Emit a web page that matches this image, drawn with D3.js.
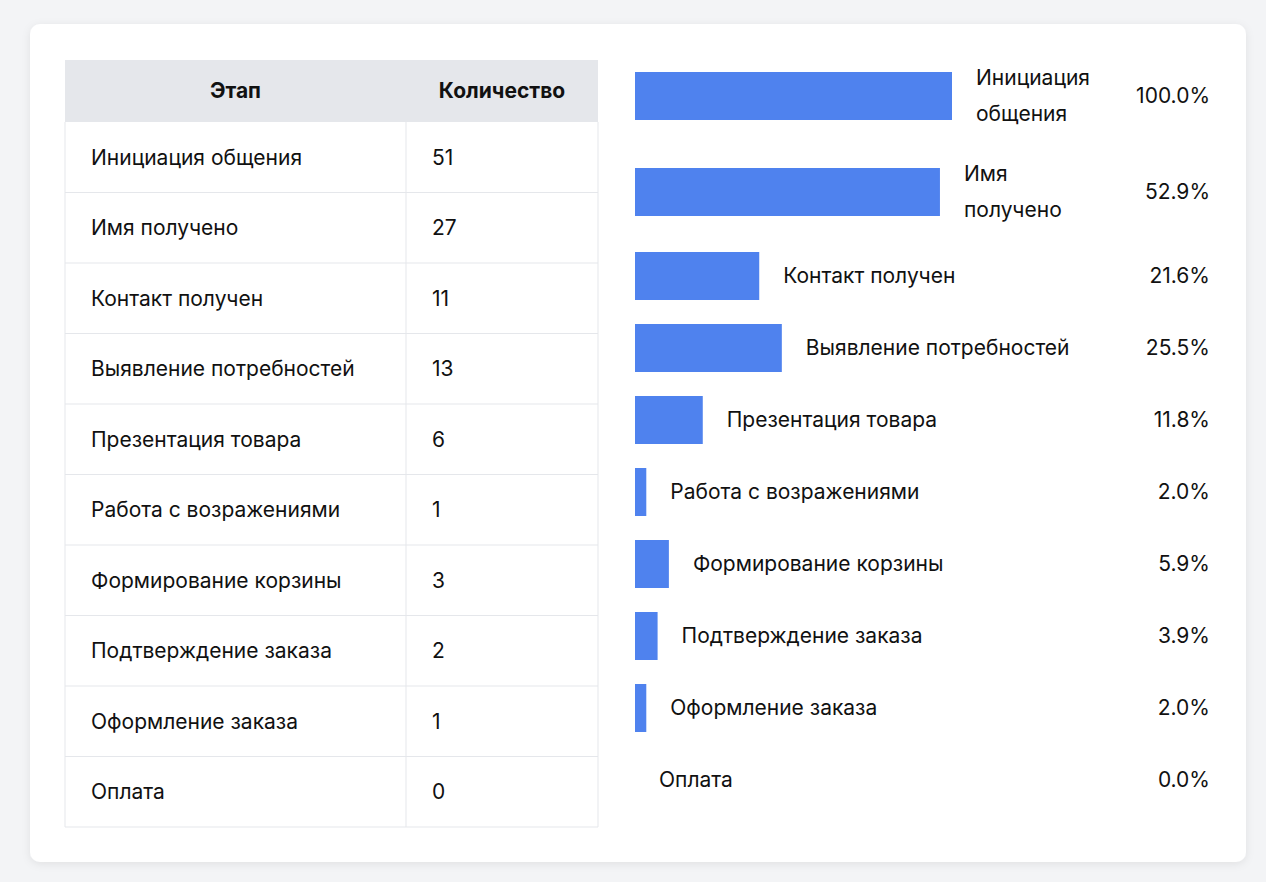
<!DOCTYPE html>
<html><head><meta charset="utf-8">
<script src="https://cdn.jsdelivr.net/npm/d3@7/dist/d3.min.js"></script>
<style>
html,body{margin:0;padding:0;background:#f3f4f6;}
svg{display:block;font-family:Inter,"Noto Sans",sans-serif;}
</style></head><body>
<svg id="c" width="1266" height="882"></svg>
<script>
const stages = ["Инициация общения","Имя получено","Контакт получен","Выявление потребностей","Презентация товара","Работа с возражениями","Формирование корзины","Подтверждение заказа","Оформление заказа","Оплата"];
const counts = [51,27,11,13,6,1,3,2,1,0];
const percents = ["100.0%","52.9%","21.6%","25.5%","11.8%","2.0%","5.9%","3.9%","2.0%","0.0%"];
const headers = ["Этап","Количество"];

const svg = d3.select("#c");
const defs = svg.append("defs");
const f = defs.append("filter").attr("id","sh").attr("x","-5%").attr("y","-5%").attr("width","110%").attr("height","115%");
f.append("feDropShadow").attr("dx",0).attr("dy",2).attr("stdDeviation",4).attr("flood-color","#000").attr("flood-opacity",0.08);
svg.append("rect").attr("x",30).attr("y",24).attr("width",1216).attr("height",838).attr("rx",10).attr("fill","#fff").attr("filter","url(#sh)");

// Table
const tx0=65, tx1=406, tx2=598, hy=60, hh=62, rh=70.5;
const tg = svg.append("g");
tg.append("rect").attr("x",tx0).attr("y",hy).attr("width",tx2-tx0).attr("height",hh).attr("fill","#e5e7eb");
tg.selectAll("text.h").data(headers).join("text")
  .attr("x",(d,i)=>i===0?(tx0+tx1)/2:(tx1+tx2)/2).attr("y",hy+hh/2).attr("dy","0.35em")
  .attr("text-anchor","middle").attr("font-size",21).attr("font-weight",700).attr("fill","#111").text(d=>d);
const ry = d3.scaleBand().domain(d3.range(stages.length)).range([hy+hh, hy+hh+rh*stages.length]);
stages.forEach((s,i)=>{
  const y=ry(i);
  tg.append("line").attr("x1",tx0).attr("x2",tx2).attr("y1",y+rh).attr("y2",y+rh).attr("stroke","#e5e7eb");
  tg.append("text").attr("x",91).attr("y",y+rh/2).attr("dy","0.35em").attr("font-size",21).attr("fill","#111").text(s);
  tg.append("text").attr("x",432).attr("y",y+rh/2).attr("dy","0.35em").attr("font-size",21).attr("fill","#111").text(counts[i]);
});
tg.append("line").attr("x1",tx1).attr("x2",tx1).attr("y1",hy+hh).attr("y2",hy+hh+rh*stages.length).attr("stroke","#e5e7eb");
tg.append("line").attr("x1",tx0).attr("x2",tx0).attr("y1",hy+hh).attr("y2",hy+hh+rh*stages.length).attr("stroke","#e5e7eb");
tg.append("line").attr("x1",tx2).attr("x2",tx2).attr("y1",hy+hh).attr("y2",hy+hh+rh*stages.length).attr("stroke","#e5e7eb");

// Bars
const bx=635, maxW=317;
const x = d3.scaleLinear().domain([0,d3.max(counts)]).range([0,576]);
const bg = svg.append("g");
let y=60;
stages.forEach((s,i)=>{
  const w=Math.min(x(counts[i]),maxW);
  const wrap = w>250;
  const h = wrap?72:48;
  const cy = y+h/2;
  if(w>0) bg.append("rect").attr("x",bx).attr("y",cy-24).attr("width",w).attr("height",48).attr("fill","#4f82ee");
  const lx = bx+w+24;
  const t = bg.append("text").attr("x",lx).attr("font-size",21).attr("fill","#111");
  if(wrap){
    const parts=s.split(" ");
    t.append("tspan").attr("x",lx).attr("y",cy-18).attr("dy","0.35em").text(parts[0]);
    t.append("tspan").attr("x",lx).attr("y",cy+18).attr("dy","0.35em").text(parts.slice(1).join(" "));
  } else t.attr("y",cy).attr("dy","0.35em").text(s);
  bg.append("text").attr("x",1210).attr("y",cy).attr("dy","0.35em").attr("text-anchor","end").attr("font-size",21).attr("fill","#111").text(percents[i]);
  y+=h+24;
});
</script></body></html>
